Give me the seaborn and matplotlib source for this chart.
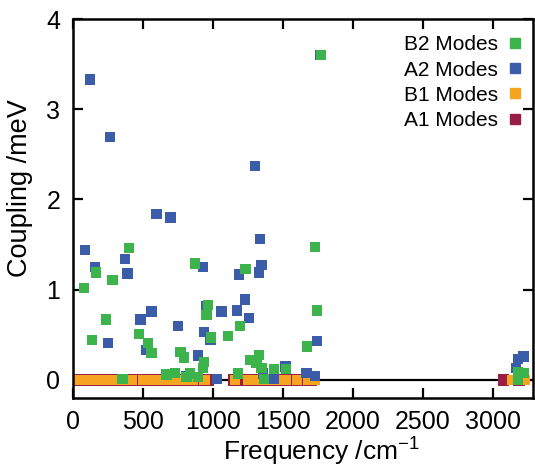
import numpy as np
import pandas as pd
import seaborn as sns
import matplotlib
matplotlib.use("Agg")
import matplotlib.pyplot as plt
from matplotlib.lines import Line2D

# frequencies (cm-1) and couplings (meV)
b2_freq = [1775, 79, 164, 402, 283, 871, 1233, 967, 955, 1193, 1110, 986, 236, 138,
           474, 538, 562, 769, 793, 938, 931, 669, 729, 836, 812, 895, 355, 1181,
           1265, 1331, 1312, 1348, 1364, 1436, 1521, 1672, 1729, 1745,
           3181, 3221, 3181]
b2_coup = [3.60, 1.02, 1.19, 1.46, 1.11, 1.29, 1.23, 0.83, 0.72, 0.60, 0.49, 0.47, 0.67, 0.44,
           0.51, 0.41, 0.30, 0.31, 0.25, 0.20, 0.13, 0.06, 0.08, 0.07, 0.03, 0.03, 0.01, 0.07,
           0.22, 0.28, 0.19, 0.13, 0.01, 0.12, 0.12, 0.37, 1.47, 0.77,
           0.09, 0.08, 0.00]

a2_freq = [121, 264, 1300, 1765, 86, 157, 371, 390, 598, 698, 931, 1186, 1338, 1348,
           1329, 1229, 1174, 1259, 1062, 955, 562, 483, 752, 252, 521, 936, 983, 895,
           1519, 1031, 1436, 1669, 812, 1745, 1729, 1360, 3181, 3221, 3169]
a2_coup = [3.33, 2.69, 2.37, 3.60, 1.44, 1.25, 1.34, 1.18, 1.84, 1.80, 1.25, 1.17, 1.56, 1.27,
           1.19, 0.89, 0.77, 0.69, 0.76, 0.82, 0.76, 0.67, 0.60, 0.41, 0.33, 0.53, 0.44, 0.27,
           0.15, 0.01, 0.01, 0.08, 0.04, 0.43, 0.04, 0.07, 0.23, 0.26, 0.13]

b1_freq = [30, 100, 150, 220, 290, 350, 420, 500, 540, 600, 660, 720, 790, 860, 940,
           1160, 1250, 1320, 1390, 1450, 1520, 1600, 1680, 1730, 3140, 3230]
a1_freq = [10, 70, 130, 190, 260, 330, 400, 480, 560, 620, 690, 760, 830, 900, 970,
           1150, 1220, 1290, 1360, 1420, 1490, 1560, 1630, 1700, 3079, 3190]

modes = ["A1 Modes", "B1 Modes", "A2 Modes", "B2 Modes"]
colors = {"A1 Modes": "#991e45", "B1 Modes": "#f7a421",
          "A2 Modes": "#3a5ca9", "B2 Modes": "#3db44b"}

df = pd.concat([
    pd.DataFrame({"freq": a1_freq, "coup": 0.0, "mode": "A1 Modes"}),
    pd.DataFrame({"freq": b1_freq, "coup": 0.0, "mode": "B1 Modes"}),
    pd.DataFrame({"freq": a2_freq, "coup": a2_coup, "mode": "A2 Modes"}),
    pd.DataFrame({"freq": b2_freq, "coup": b2_coup, "mode": "B2 Modes"}),
], ignore_index=True)

sns.set_style("ticks", {"axes.edgecolor": "black", "xtick.color": "black",
                        "ytick.color": "black", "text.color": "black",
                        "axes.labelcolor": "black"})
plt.rcParams["font.family"] = ["Liberation Sans", "DejaVu Sans"]
plt.rcParams["mathtext.default"] = "regular"

fig = plt.figure(figsize=(5.35, 4.68), dpi=100)
ax = fig.add_axes([0.1364, 0.1496, 0.860, 0.8098])

ax.axhline(0, color="black", lw=1.6, zorder=1)
for m in modes:
    sub = df[df["mode"] == m]
    sns.scatterplot(data=sub, x="freq", y="coup", color=colors[m], marker="s",
                    s=70 if m == "A1 Modes" else 55, edgecolor="none",
                    ax=ax, zorder=2, legend=False)

ax.set_xlim(0, 3290)
ax.set_ylim(-0.2, 4)
ax.set_xticks([0, 500, 1000, 1500, 2000, 2500, 3000])
ax.set_yticks([0, 1, 2, 3, 4])
ax.tick_params(direction="in", length=7, width=1.6, labelsize=18,
               top=True, right=True, pad=9, colors="black")
for sp in ax.spines.values():
    sp.set_linewidth(1.8)
    sp.set_color("black")
ax.set_xlabel("Frequency /cm$^{-1}$", fontsize=19, labelpad=1)
ax.set_ylabel("Coupling /meV", fontsize=19.5, labelpad=10)
ax.xaxis.label.set_x(0.54)
ax.yaxis.label.set_y(0.555)

handles = [Line2D([], [], ls="none", marker="s", markersize=7,
                  color=colors[m], label=m) for m in modes[::-1]]
ax.legend(handles=handles, loc="upper right", markerfirst=False, frameon=False,
          fontsize=15, handletextpad=0.4, handlelength=0.8, labelspacing=0.3,
          borderaxespad=0.2, bbox_to_anchor=(1.005, 0.99))

fig.savefig("out.png", dpi=100)
